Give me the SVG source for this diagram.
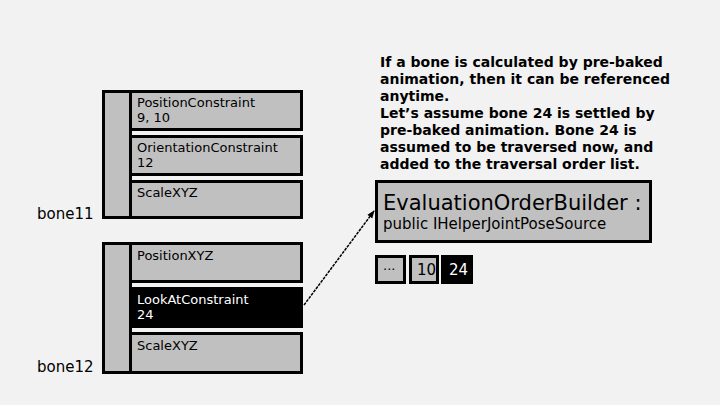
<svg xmlns="http://www.w3.org/2000/svg" width="720" height="405" viewBox="0 0 720 405">
<defs><marker id="ah" markerWidth="8" markerHeight="8" refX="7" refY="4" orient="auto" markerUnits="userSpaceOnUse"><path d="M0,1 L8,4 L0,7 Z" fill="#000"/></marker></defs>
<style>
text{font-family:"DejaVu Sans","Liberation Sans",sans-serif;fill:#000}
.b{fill:#c0c0c0;stroke:#000;stroke-width:3}
.k{fill:#000;stroke:#000;stroke-width:3}
.t{font-size:13px}
.w{fill:#fff}
</style>
<rect width="720" height="405" fill="#f2f2f2"/>
<g id="bone11">
<rect class="b" x="103.5" y="91.5" width="27" height="126"/>
<rect class="b" x="130.5" y="91.5" width="171" height="38"/>
<rect class="b" x="130.5" y="136.5" width="171" height="38"/>
<rect class="b" x="130.5" y="181.5" width="171" height="36"/>
<text class="t" x="137" y="107">PositionConstraint</text><text class="t" x="137" y="122">9, 10</text>
<text class="t" x="137" y="152">OrientationConstraint</text><text class="t" x="137" y="167">12</text>
<text class="t" x="137" y="197">ScaleXYZ</text>
<text x="37" y="219" font-size="15">bone11</text>
</g>
<g id="bone12">
<rect class="b" x="103.5" y="243.5" width="27" height="129"/>
<rect class="b" x="130.5" y="243.5" width="171" height="38"/>
<rect class="k" x="130.5" y="288.5" width="171" height="38"/>
<rect class="b" x="130.5" y="333.5" width="171" height="39"/>
<text class="t" x="137" y="260">PositionXYZ</text>
<text class="t w" x="137" y="304">LookAtConstraint</text><text class="t w" x="137" y="319">24</text>
<text class="t" x="137" y="350">ScaleXYZ</text>
<text x="37" y="372" font-size="15">bone12</text>
</g>
<g id="note" font-size="14" font-weight="bold">
<text x="380" y="67">If a bone is calculated by pre-baked</text>
<text x="380" y="84">animation, then it can be referenced</text>
<text x="380" y="101">anytime.</text>
<text x="380" y="118">Let’s assume bone 24 is settled by</text>
<text x="380" y="135">pre-baked animation. Bone 24 is</text>
<text x="380" y="152">assumed to be traversed now, and</text>
<text x="380" y="169">added to the traversal order list.</text>
</g>
<g id="builder">
<rect class="b" x="376.5" y="181.5" width="274" height="60"/>
<text x="383" y="210" font-size="21">EvaluationOrderBuilder :</text>
<text x="383" y="229" font-size="15">public IHelperJointPoseSource</text>
</g>
<g id="list">
<rect class="b" x="376.5" y="256.5" width="28" height="26"/><text x="383" y="274" font-size="13">···</text>
<rect class="b" x="410.5" y="256.5" width="27" height="26"/><text x="417" y="275" font-size="15">10</text>
<rect class="k" x="442.5" y="256.5" width="29" height="26"/><text class="w" x="449" y="275" font-size="15">24</text>
</g>
<g id="connectors">
<line x1="304" y1="305" x2="374" y2="211" stroke="#000" stroke-width="1.5" stroke-dasharray="3 1" marker-end="url(#ah)"/>
</g>
</svg>
